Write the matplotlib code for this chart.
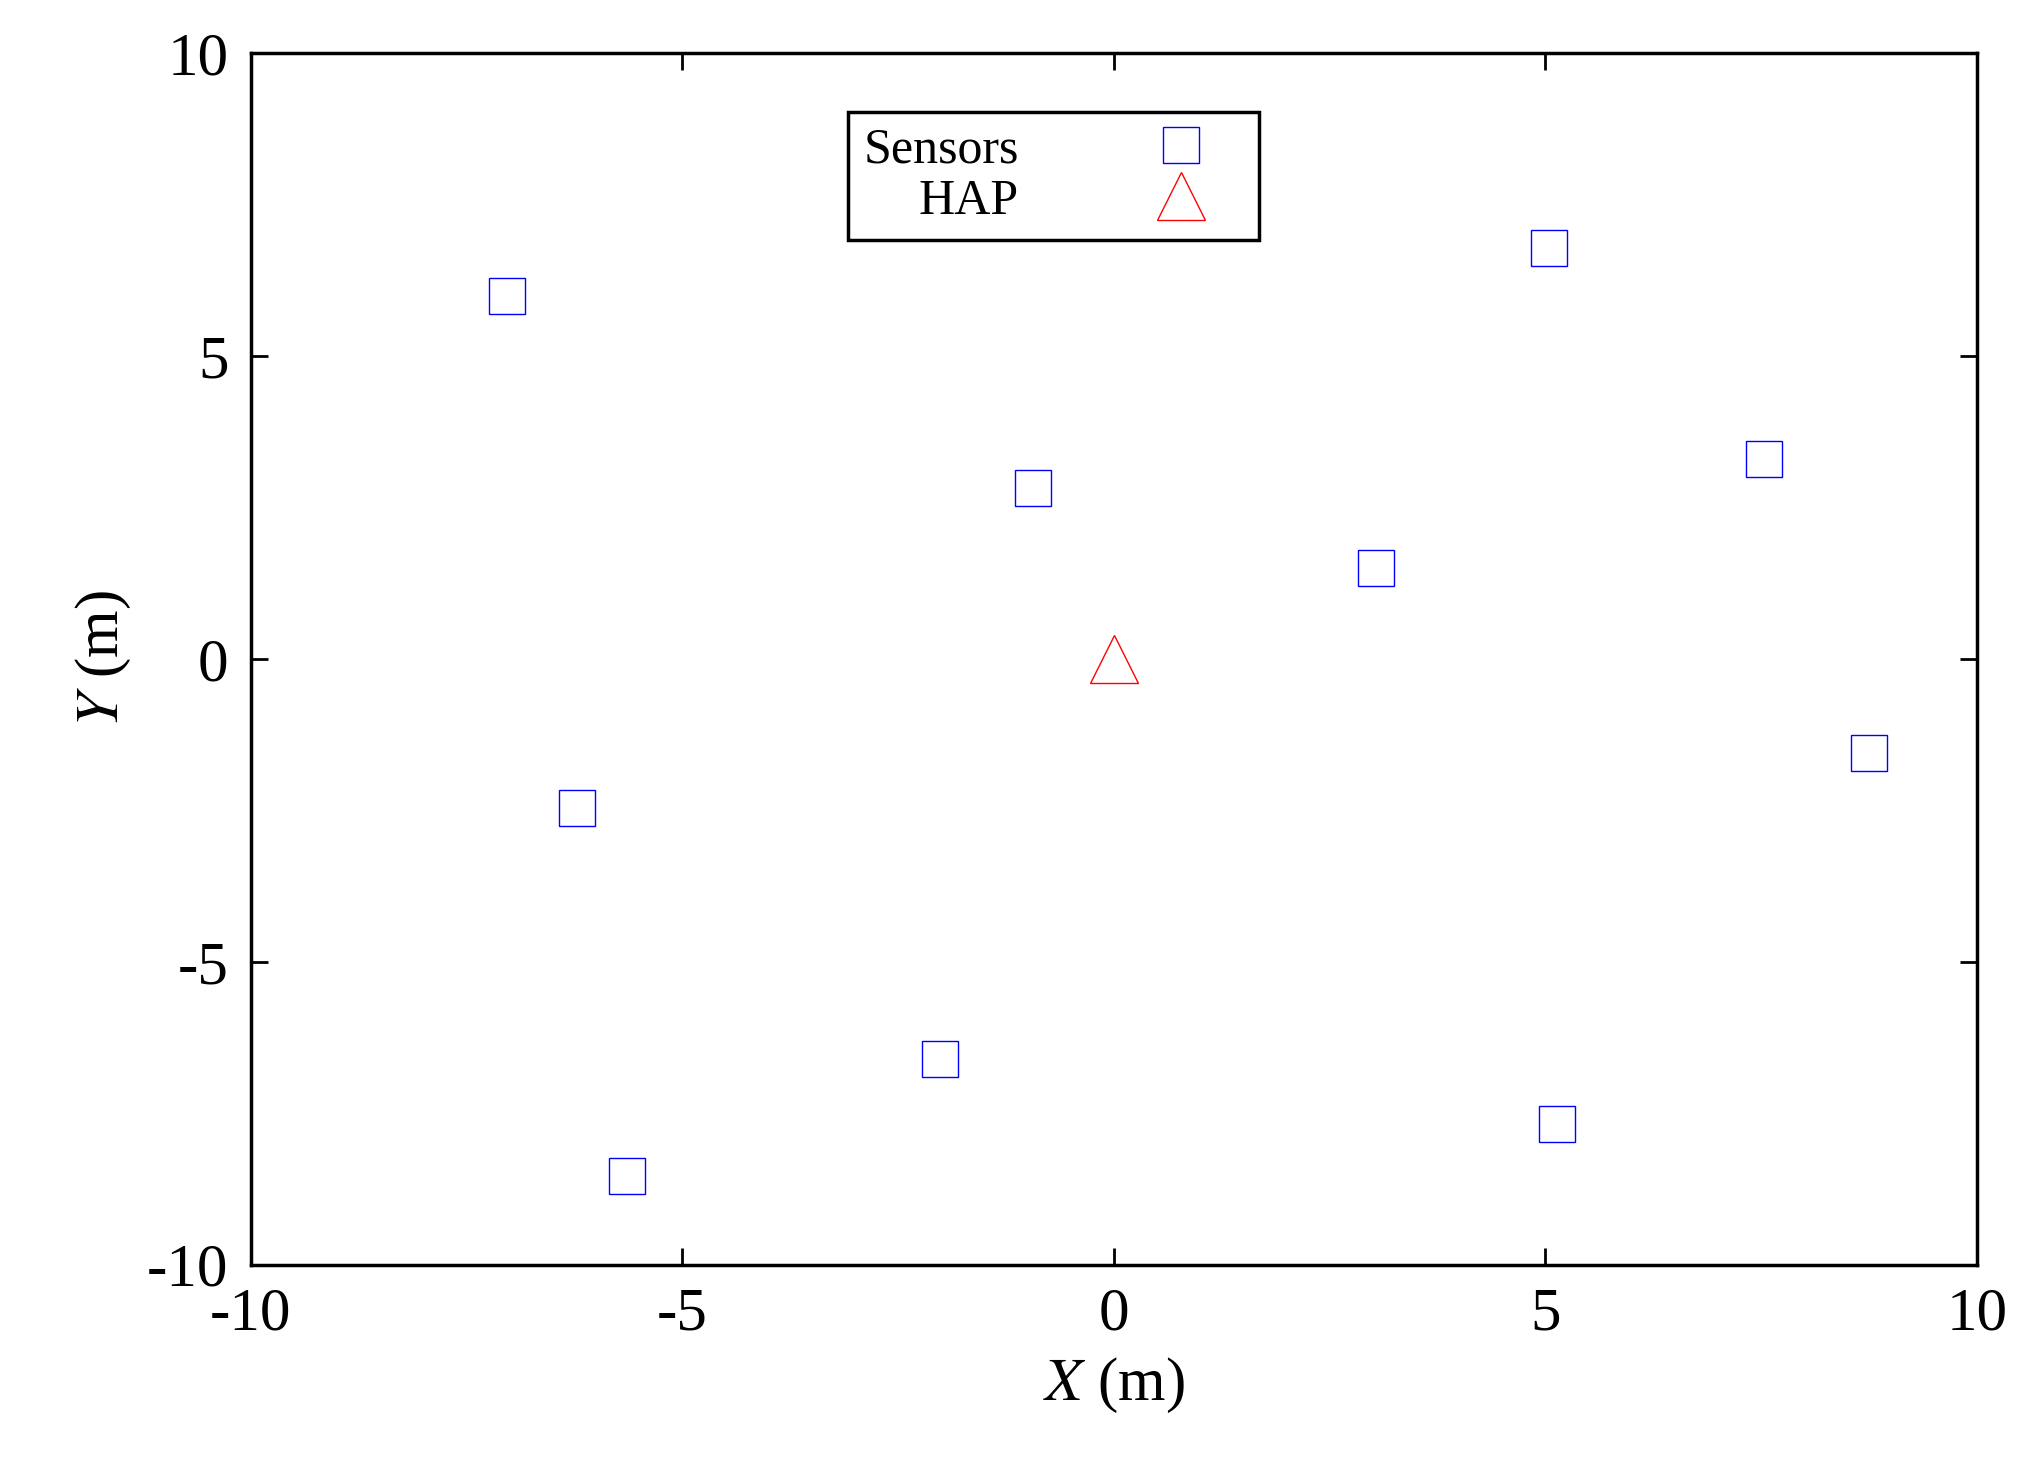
import matplotlib
matplotlib.use("Agg")
import matplotlib.pyplot as plt

# sensor positions (m)
sensor_x = [-7.03, 5.04, -0.94, 7.54, 3.04, 8.75, -6.22, -2.01, -5.64, 5.13]
sensor_y = [6.0, 6.78, 2.82, 3.30, 1.51, -1.56, -2.46, -6.6, -8.54, -7.68]
hap_x = [0.0]
hap_y = [0.0]
ticks = [-10, -5, 0, 5, 10]

plt.rcParams['font.family'] = ['Liberation Serif', 'DejaVu Serif']
plt.rcParams['mathtext.fontset'] = 'stix'
plt.rcParams['axes.unicode_minus'] = False

fig = plt.figure(figsize=(20.4, 14.62), dpi=100)
ax = fig.add_axes([0.123, 0.135, 0.846, 0.8285])

ax.plot(sensor_x, sensor_y, 's', ms=26, mfc='none', mec='#0000ff', mew=1.0,
        label='Sensors', ls='none')
ax.plot(hap_x, hap_y, '^', ms=34, mfc='none', mec='#ff0000', mew=1.0,
        label='HAP', ls='none')

ax.set_xlim(-10, 10)
ax.set_ylim(-10, 10)
ax.set_xticks(ticks)
ax.set_yticks(ticks)
ax.tick_params(direction='in', length=12, width=2, labelsize=44,
               top=True, right=True, pad=16)
for s in ax.spines.values():
    s.set_linewidth(2.5)

ax.set_xlabel(r'$X$ (m)', fontsize=44, labelpad=10)
ax.set_ylabel(r'$Y$ (m)', fontsize=44, labelpad=10)

leg = ax.legend(loc='upper center', bbox_to_anchor=(0.465, 0.952),
                markerfirst=False, fontsize=36, fancybox=False,
                framealpha=1, edgecolor='black', borderpad=0.3,
                handletextpad=2.0, labelspacing=0.1, borderaxespad=0,
                handlelength=2.5)
leg.get_frame().set_linewidth(2.5)
for t in leg.get_texts():
    t.set_ha('right')
# widen the legend box a bit, like the reference
leg._legend_box.align = 'right'
leg.get_frame().set_boxstyle('square', pad=0.0)
fig.canvas.draw()
bb = leg.get_window_extent()
leg.get_frame().set_bounds(bb.x0 - 130, bb.y0, bb.width + 170, bb.height)

fig.savefig('out.png', dpi=100)
